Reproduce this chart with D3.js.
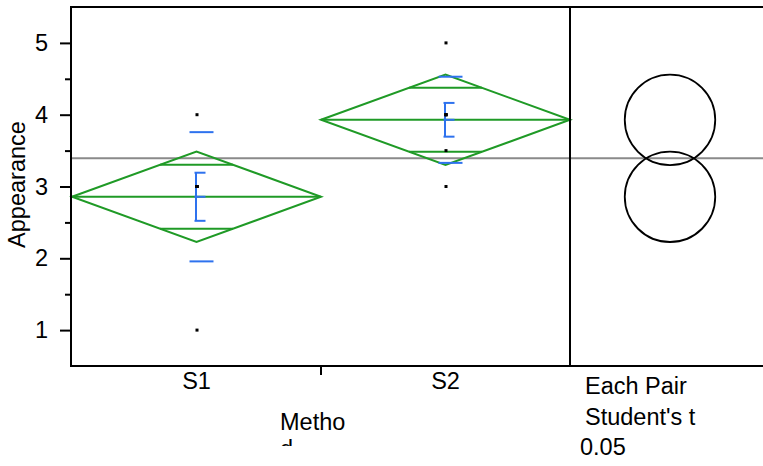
<!DOCTYPE html>
<html>
<head>
<meta charset="utf-8">
<script src="https://cdn.jsdelivr.net/npm/d3@7"></script>
<style>
  html, body { margin: 0; padding: 0; background: #fff; }
  svg { display: block; font-family: "Liberation Sans", Arial, sans-serif; }
</style>
</head>
<body>
<svg id="chart" width="763" height="466"></svg>
<script>
// Groups and the raw responses for each group
const categories = ["S1", "S2"];
const pointsS1 = [1, 3, 3, 3, 3, 3, 4];
const pointsS2 = [3, 3.5, 4, 4, 4, 4, 5];

// Group summaries: means, 95% CI half-widths, std dev and std error
const means = [2.857, 3.929];
const ciHalf = [0.63, 0.63];
const stdDev = [0.90, 0.60];
const stdErr = [0.335, 0.235];
const grandMean = 3.393;

// Axis ticks
const majorTicks = [1, 2, 3, 4, 5];
const minorTicks = [1.5, 2.5, 3.5, 4.5];
const compareLabels = ["Each Pair", "Student's t", "0.05"];

const groups = categories.map((c, i) => ({
  cat: c, mean: means[i], ci: ciHalf[i], sd: stdDev[i], se: stdErr[i],
  points: [pointsS1, pointsS2][i]
}));

const svg = d3.select("#chart");
const W = 763, H = 466;
const FS = 23.5;
const plotLeft = 71, plotTop = 7, plotBottom = 366, divider = 570;

const x = d3.scaleBand().domain(categories).range([plotLeft + 1, divider]).paddingInner(0).paddingOuter(0);
const y = d3.scaleLinear().domain([0.5, 5.5]).range([plotBottom, plotTop]);

const GREEN = "#1f9a26", BLUE = "#2e72ee", GREY = "#8a8a8a";

// Y axis: major ticks with labels, minor ticks without
const yMajor = svg.append("g").attr("transform", `translate(${plotLeft},0)`)
  .call(d3.axisLeft(y).tickValues(majorTicks).tickSize(11).tickPadding(12).tickFormat(d3.format("d")));
const yMinor = svg.append("g").attr("transform", `translate(${plotLeft},0)`)
  .call(d3.axisLeft(y).tickValues(minorTicks).tickSize(6).tickFormat(""));
[yMajor, yMinor].forEach(g => {
  g.select(".domain").remove();
  g.selectAll(".tick line").attr("stroke", "#000").attr("stroke-width", 2);
});
yMajor.selectAll(".tick text").attr("font-size", FS).attr("fill", "#000")
  .attr("font-family", "Liberation Sans, Arial, sans-serif");

// X axis: category labels, tick only at the boundary between groups
const xAxis = svg.append("g").attr("transform", `translate(0,${plotBottom})`)
  .call(d3.axisBottom(x).tickSize(0).tickPadding(6));
xAxis.select(".domain").remove();
xAxis.selectAll(".tick text").attr("font-size", FS).attr("fill", "#000")
  .attr("font-family", "Liberation Sans, Arial, sans-serif");
const boundary = x("S2");
svg.append("line").attr("x1", boundary).attr("x2", boundary)
  .attr("y1", plotBottom).attr("y2", plotBottom + 9).attr("stroke", "#000").attr("stroke-width", 2);

// Axis titles
svg.append("text")
  .attr("transform", `translate(25,${(plotTop + plotBottom) / 2 - 2}) rotate(-90)`)
  .attr("text-anchor", "middle").attr("font-size", FS).text("Appearance");

svg.append("clipPath").attr("id", "titleClip")
  .append("rect").attr("x", 0).attr("y", 390).attr("width", 560).attr("height", 56);
const xt = svg.append("text").attr("clip-path", "url(#titleClip)")
  .attr("font-size", FS).attr("x", 280).attr("y", 429.5);
xt.append("tspan").attr("x", 280).text("Metho");
xt.append("tspan").attr("x", 280).attr("dy", 27.5).text("d");

// Grand mean reference line across both panels
svg.append("line").attr("x1", plotLeft).attr("x2", W)
  .attr("y1", y(grandMean)).attr("y2", y(grandMean))
  .attr("stroke", GREY).attr("stroke-width", 2);

// Means diamonds with overlap marks
const diamonds = svg.append("g");
groups.forEach(g => {
  const x0 = x(g.cat), x1 = x0 + x.bandwidth(), cx = x0 + x.bandwidth() / 2;
  const hw = x.bandwidth() / 2;
  diamonds.append("path")
    .attr("d", `M${x0},${y(g.mean)}L${cx},${y(g.mean + g.ci)}L${x1},${y(g.mean)}L${cx},${y(g.mean - g.ci)}Z`)
    .attr("fill", "none").attr("stroke", GREEN).attr("stroke-width", 2);
  diamonds.append("line").attr("x1", x0).attr("x2", x1)
    .attr("y1", y(g.mean)).attr("y2", y(g.mean))
    .attr("stroke", GREEN).attr("stroke-width", 2);
  const off = g.ci * Math.SQRT1_2;
  [1, -1].forEach(s => {
    const yy = y(g.mean + s * off);
    const w = hw * (1 - Math.SQRT1_2);
    diamonds.append("line").attr("x1", cx - w).attr("x2", cx + w)
      .attr("y1", yy).attr("y2", yy)
      .attr("stroke", GREEN).attr("stroke-width", 2);
  });
});

// Std dev marks and std error bars
const errs = svg.append("g").attr("stroke", BLUE).attr("stroke-width", 2).attr("fill", "none");
groups.forEach(g => {
  const cx = x(g.cat) + x.bandwidth() / 2;
  [g.mean + g.sd, g.mean - g.sd].forEach(v => {
    errs.append("line").attr("x1", cx - 7).attr("x2", cx + 17)
      .attr("y1", y(v)).attr("y2", y(v));
  });
  errs.append("line").attr("x1", cx - 0.5).attr("x2", cx - 0.5)
    .attr("y1", y(g.mean + g.se)).attr("y2", y(g.mean - g.se));
  [g.mean + g.se, g.mean, g.mean - g.se].forEach(v => {
    errs.append("line").attr("x1", cx - 2).attr("x2", cx + 9)
      .attr("y1", y(v)).attr("y2", y(v));
  });
});

// Raw data points
const pts = svg.append("g");
groups.forEach(g => {
  const cx = x(g.cat) + x.bandwidth() / 2;
  pts.selectAll(null).data(g.points).join("rect")
    .attr("x", cx - 1).attr("y", d => y(d) - 1.5)
    .attr("width", 3).attr("height", 3).attr("fill", "#000");
});

// Comparison circles
const circleX = 670;
groups.forEach(g => {
  svg.append("circle").attr("cx", circleX).attr("cy", y(g.mean))
    .attr("r", y(0) - y(g.ci))
    .attr("fill", "none").attr("stroke", "#000").attr("stroke-width", 1.8);
});

// Frame: top, bottom, left axis and panel divider
const frame = svg.append("g").attr("stroke", "#000").attr("stroke-width", 2);
frame.append("line").attr("x1", plotLeft).attr("x2", W).attr("y1", plotTop).attr("y2", plotTop);
frame.append("line").attr("x1", plotLeft).attr("x2", W).attr("y1", plotBottom).attr("y2", plotBottom);
frame.append("line").attr("x1", plotLeft).attr("x2", plotLeft).attr("y1", plotTop - 1).attr("y2", plotBottom + 1);
frame.append("line").attr("x1", divider).attr("x2", divider).attr("y1", plotTop).attr("y2", plotBottom);

// Comparison method labels
const labelPos = [[585, 394], [585, 425], [580, 455]];
compareLabels.forEach((t, i) => {
  svg.append("text").attr("x", labelPos[i][0]).attr("y", labelPos[i][1])
    .attr("font-size", FS).text(t);
});
</script>
</body>
</html>
